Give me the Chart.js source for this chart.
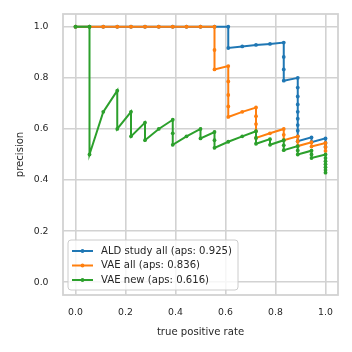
<!DOCTYPE html>
<html><head><meta charset="utf-8">
<script src="https://cdn.jsdelivr.net/npm/chart.js@4/dist/chart.umd.min.js"></script>
<style>html,body{margin:0;padding:0;background:#fff;}#wrap{width:352px;height:352px;}</style>
</head><body><div id="wrap"><canvas id="c" width="352" height="352"></canvas></div>
<script>
const xTickValues = [0, 0.2, 0.4, 0.6, 0.8, 1.0];
const yTickValues = [0, 0.2, 0.4, 0.6, 0.8, 1.0];
const xAxisTitle = "true positive rate";
const yAxisTitle = "precision";
const seriesLabels = ["ALD study all (aps: 0.925)", "VAE all (aps: 0.836)", "VAE new (aps: 0.616)"];

const aldRecall = [0, .056, .111, .167, .222, .278, .333, .389, .444, .5, .556, .611, .611, .667, .722, .778, .833, .833, .833, .833,
  .889, .889, .889, .889, .889, .889, .889, .889, .889, .889, .944, .944, 1, 1, 1];
const aldPrecision = [1, 1, 1, 1, 1, 1, 1, 1, 1, 1, 1, 1, .917, .923, .929, .933, .938, .882, .833, .789,
  .8, .762, .727, .696, .667, .64, .615, .593, .571, .552, .567, .548, .563, .545, .529];

const vaeAllRecall = [0, .056, .111, .167, .222, .278, .333, .389, .444, .5, .556, .556, .556, .611, .611, .611, .611, .611,
  .667, .722, .722, .722, .722, .722, .778, .833, .833, .833, .889, .889, .889, .944, .944, 1, 1, 1];
const vaeAllPrecision = [1, 1, 1, 1, 1, 1, 1, 1, 1, 1, 1, .909, .833, .846, .786, .733, .688, .647,
  .667, .684, .65, .619, .591, .565, .583, .6, .577, .556, .571, .552, .533, .548, .531, .545, .529, .514];

const vaeNewRecall = [0, .056, .056, .111, .167, .167, .222, .222, .278, .278, .333, .389, .389, .389, .444, .5, .5,
  .556, .556, .556, .611, .667, .722, .722, .722, .778, .778, .833, .833, .833, .889, .889, .889, .944, .944, .944,
  1, 1, 1, 1, 1, 1, 1];
const vaeNewPrecision = [1, 1, .5, .667, .75, .6, .667, .571, .625, .556, .6, .636, .583, .538, .571, .6, .563,
  .588, .556, .526, .55, .571, .591, .565, .542, .56, .538, .556, .536, .517, .533, .516, .5, .515, .5, .486,
  .5, .486, .474, .462, .45, .439, .429];

const colors = ["#1f77b4", "#ff7f0e", "#2ca02c"];
const TEXT = "#262626";
const GRID = "#d2d2d2";
const FONT = "'DejaVu Sans', sans-serif";

function pts(xs, ys) { return xs.map((x, i) => ({x: x, y: ys[i]})); }

const datasets = [
  [aldRecall, aldPrecision], [vaeAllRecall, vaeAllPrecision], [vaeNewRecall, vaeNewPrecision]
].map((s, i) => ({
  label: seriesLabels[i],
  data: pts(s[0], s[1]),
  showLine: true,
  borderColor: colors[i],
  backgroundColor: colors[i],
  borderWidth: 2,
  pointRadius: 1.9,
  pointBorderWidth: 0,
  pointBackgroundColor: colors[i],
  pointHoverRadius: 0,
  tension: 0,
  order: 3 - i
}));

const framePlugin = {
  id: 'frame',
  beforeDatasetsDraw(chart) {
    const {ctx, chartArea: a} = chart;
    ctx.save();
    ctx.strokeStyle = GRID;
    ctx.lineWidth = 1.8;
    ctx.strokeRect(a.left, a.top, a.right - a.left, a.bottom - a.top);
    ctx.restore();
  }
};

const legendPlugin = {
  id: 'innerLegend',
  afterDraw(chart) {
    const {ctx, chartArea: a} = chart;
    const bx = a.left + 5, by = a.bottom - 55, bw = 170, bh = 50, r = 3;
    ctx.save();
    ctx.beginPath();
    ctx.moveTo(bx + r, by);
    ctx.arcTo(bx + bw, by, bx + bw, by + bh, r);
    ctx.arcTo(bx + bw, by + bh, bx, by + bh, r);
    ctx.arcTo(bx, by + bh, bx, by, r);
    ctx.arcTo(bx, by, bx + bw, by, r);
    ctx.closePath();
    ctx.fillStyle = "rgba(255,255,255,0.8)";
    ctx.fill();
    ctx.strokeStyle = "#cccccc";
    ctx.lineWidth = 1;
    ctx.stroke();
    const rows = [11, 25.5, 40];
    chart.data.datasets.forEach((ds, i) => {
      const y = by + rows[i];
      ctx.strokeStyle = ds.borderColor;
      ctx.lineWidth = 2;
      ctx.beginPath();
      ctx.moveTo(bx + 4, y);
      ctx.lineTo(bx + 25, y);
      ctx.stroke();
      ctx.fillStyle = ds.borderColor;
      ctx.beginPath();
      ctx.arc(bx + 14.5, y, 1.9, 0, Math.PI * 2);
      ctx.fill();
      ctx.fillStyle = TEXT;
      ctx.font = "10.1px " + FONT;
      ctx.textBaseline = "middle";
      ctx.textAlign = "left";
      ctx.fillText(ds.label, bx + 33, y);
    });
    ctx.restore();
  }
};

new Chart(document.getElementById('c'), {
  type: 'scatter',
  data: {datasets: datasets},
  options: {
    responsive: false,
    animation: false,
    devicePixelRatio: 1,
    layout: {padding: {top: 14, right: 14, left: 0, bottom: 0}},
    plugins: {legend: {display: false}, tooltip: {enabled: false}},
    scales: {
      x: {
        type: 'linear', min: -0.05, max: 1.05,
        afterBuildTicks: s => { s.ticks = xTickValues.map(v => ({value: v})); },
        afterFit: s => { s.height = 57; s.paddingLeft = 0; s.paddingRight = 0; },
        ticks: {color: TEXT, font: {family: FONT, size: 9.3}, padding: 12, maxRotation: 0,
          callback: v => Number(v).toFixed(1)},
        grid: {color: GRID, lineWidth: 1.6, drawTicks: false},
        border: {display: false},
        title: {display: true, text: xAxisTitle, color: TEXT, font: {family: FONT, size: 10.1},
          padding: {top: 0, bottom: 14}}
      },
      y: {
        type: 'linear', min: -0.05, max: 1.05,
        afterBuildTicks: s => { s.ticks = yTickValues.map(v => ({value: v})); },
        afterFit: s => { s.width = 63; s.paddingTop = 0; s.paddingBottom = 0; },
        ticks: {color: TEXT, font: {family: FONT, size: 9.3}, padding: 14.5,
          callback: v => Number(v).toFixed(1)},
        grid: {color: GRID, lineWidth: 1.6, drawTicks: false},
        border: {display: false},
        title: {display: true, text: yAxisTitle, color: TEXT, font: {family: FONT, size: 10.1},
          padding: {top: 14.5, bottom: 0}}
      }
    }
  },
  plugins: [framePlugin, legendPlugin]
});
</script>
</body></html>
